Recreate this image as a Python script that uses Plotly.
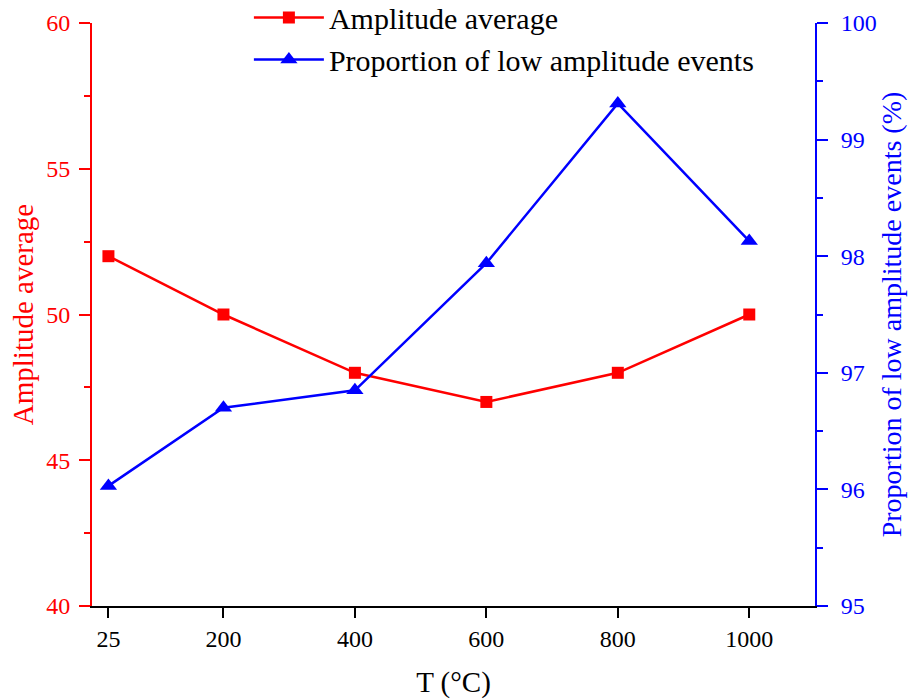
import plotly.graph_objects as go

temperature = [25, 200, 400, 600, 800, 1000]
amplitude_avg = [52, 50, 48, 47, 48, 50]
low_amp_prop = [96.03, 96.70, 96.85, 97.94, 99.31, 98.13]
x_ticks = [25, 200, 400, 600, 800, 1000]

RED = "#FF0000"
BLUE = "#0000FF"
FONT = "Liberation Serif"

fig = go.Figure()
fig.add_trace(go.Scatter(
    x=temperature, y=amplitude_avg, name="Amplitude average",
    mode="lines+markers",
    line=dict(color=RED, width=2.5),
    marker=dict(symbol="square", size=12, color=RED),
    yaxis="y",
))
fig.add_trace(go.Scatter(
    x=temperature, y=low_amp_prop, name="Proportion of low amplitude events",
    mode="lines+markers",
    line=dict(color=BLUE, width=2.5),
    marker=dict(symbol="triangle-up", size=15, color=BLUE),
    yaxis="y2",
))

fig.update_layout(
    width=916, height=699,
    margin=dict(l=92, r=101, t=23, b=93, autoexpand=False),
    paper_bgcolor="white", plot_bgcolor="white",
    font=dict(family=FONT, size=24, color="black"),
    showlegend=True,
    legend=dict(
        x=0.217, y=1.054, xanchor="left", yanchor="top",
        bgcolor="rgba(0,0,0,0)",
        font=dict(family=FONT, size=30),
        itemwidth=70,
        tracegroupgap=0,
    ),
    xaxis=dict(
        range=[0, 1100],
        tickmode="array", tickvals=x_ticks, ticktext=[str(v) for v in x_ticks],
        showgrid=False, zeroline=False,
        showline=True, linecolor="black", linewidth=2,
        ticks="outside", ticklen=10, tickwidth=2, tickcolor="black",
        tickfont=dict(family=FONT, size=24, color="black"),
        title=dict(text="T (°C)", font=dict(family=FONT, size=29, color="black"), standoff=24),
    ),
    yaxis=dict(
        range=[40, 60], tickmode="linear", tick0=40, dtick=5,
        showgrid=False, zeroline=False,
        showline=True, linecolor=RED, linewidth=2,
        ticks="outside", ticklen=11, tickwidth=2, tickcolor=RED,
        ticklabelstandoff=4,
        minor=dict(dtick=2.5, ticks="outside", ticklen=6, tickwidth=2, tickcolor=RED),
        tickfont=dict(family=FONT, size=24, color=RED),
        title=dict(text="Amplitude average", font=dict(family=FONT, size=29, color=RED), standoff=4),
    ),
    yaxis2=dict(
        range=[95, 100], tickmode="linear", tick0=95, dtick=1,
        overlaying="y", side="right", anchor="x",
        showgrid=False, zeroline=False,
        showline=True, linecolor=BLUE, linewidth=2,
        ticks="outside", ticklen=11, tickwidth=2, tickcolor=BLUE,
        ticklabelstandoff=8,
        minor=dict(dtick=0.5, ticks="outside", ticklen=6, tickwidth=2, tickcolor=BLUE),
        tickfont=dict(family=FONT, size=24, color=BLUE),
        title=dict(text="Proportion of low amplitude events (%)", font=dict(family=FONT, size=28, color=BLUE), standoff=6),
    ),
)

fig.write_html("out.html")
